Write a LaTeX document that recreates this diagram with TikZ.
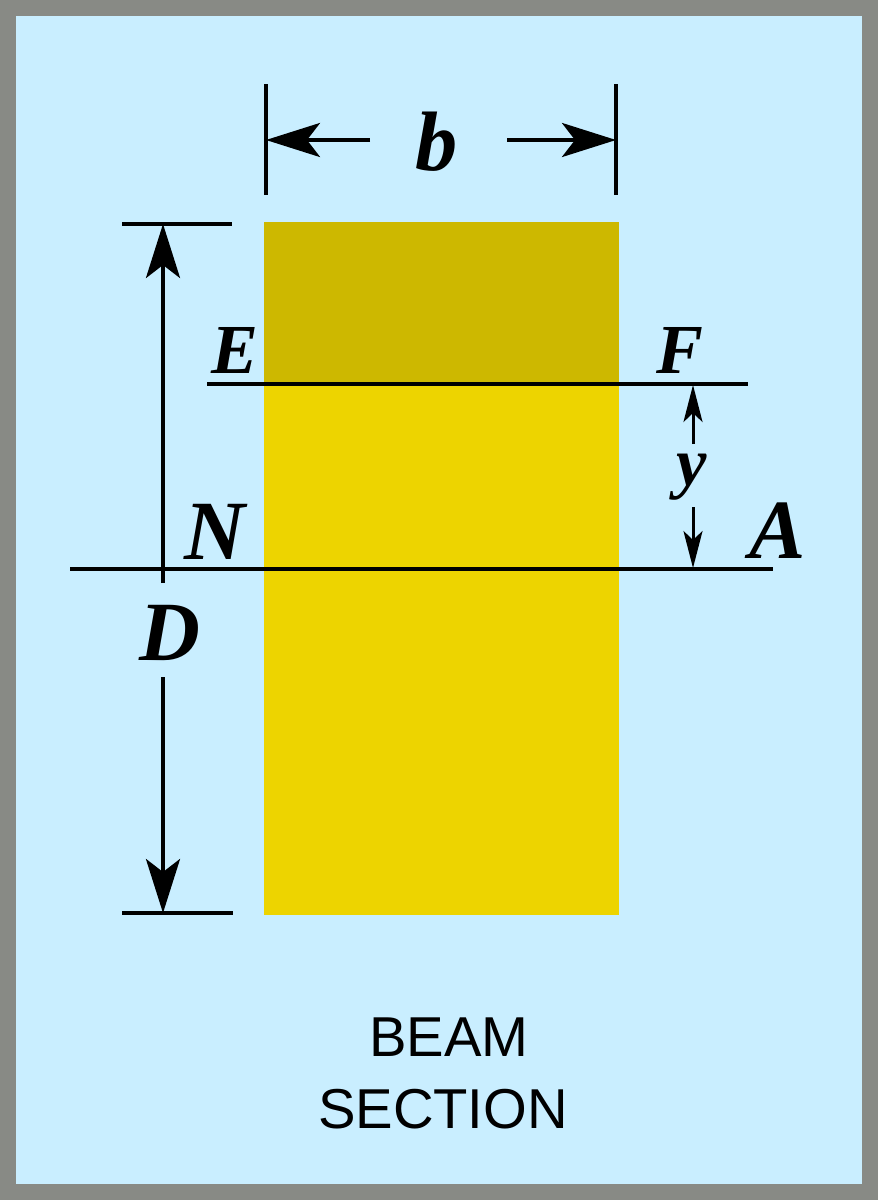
\documentclass[tikz,border=0pt]{standalone}
\usepackage{fontspec}
\setmainfont{Liberation Serif}
\setsansfont{Liberation Sans}
\usetikzlibrary{arrows.meta}
\definecolor{framegray}{RGB}{136,138,133}
\definecolor{skyblue}{RGB}{201,238,255}
\definecolor{beamyellow}{RGB}{237,212,0}
\definecolor{beamdark}{RGB}{205,184,0}
\begin{document}
\begin{tikzpicture}[x=0.02cm,y=-0.02cm,
    dimline/.style={line width=0.08cm},
    thinline/.style={line width=0.06cm},
    bigtip/.style={-{Stealth[length=1.08cm,width=0.68cm,inset=0.26cm]}},
    smalltip/.style={-{Stealth[length=0.74cm,width=0.38cm,inset=0.18cm]}},
    sym/.style={font=\fontsize{#1}{#1}\selectfont\bfseries\itshape,inner sep=0pt,anchor=base},
    caption/.style={font=\sffamily\fontsize{32}{40}\selectfont,inner sep=0pt,anchor=base}]
                    % frame and section
                    \fill[framegray] (0,0) rectangle (878,1200);
                    \fill[skyblue] (16,16) rectangle (862,1184);
                    \fill[beamyellow] (264,384) rectangle (619,915);
                    \fill[beamdark] (264,222) rectangle (619,384);
                    \coordinate(EFl)at(207,384);\coordinate(EFr)at(748,384);
                    \coordinate(NAl)at(70,569);\coordinate(NAr)at(773,569);
                    \draw[dimline] (EFl) -- (EFr) (NAl) -- (NAr);
                    % b
                    \coordinate(bLtop)at(266,84);\coordinate(bLbot)at(266,195);
                    \coordinate(bRtop)at(616,84);\coordinate(bRbot)at(616,195);
                    \coordinate(bLtip)at(266,140);\coordinate(bLend)at(370,140);
                    \coordinate(bRtip)at(616,140);\coordinate(bRend)at(507,140);
                    \draw[dimline] (bLtop) -- (bLbot) (bRtop) -- (bRbot);
                    \draw[dimline,bigtip] (bLend) -- (bLtip);
                    \draw[dimline,bigtip] (bRend) -- (bRtip);
                    % D
                    \coordinate(DTl)at(122,224);\coordinate(DTr)at(232,224);
                    \coordinate(DBl)at(122,913);\coordinate(DBr)at(233,913);
                    \coordinate(Dtip)at(163,224);\coordinate(Dup)at(163,583);
                    \coordinate(Dlow)at(163,677);\coordinate(Dbot)at(163,913);
                    \draw[dimline] (DTl) -- (DTr) (DBl) -- (DBr);
                    \draw[dimline,bigtip] (Dup) -- (Dtip);
                    \draw[dimline,bigtip] (Dlow) -- (Dbot);
                    % y
                    \coordinate(yTop)at(693,385);\coordinate(yUp)at(693,444);
                    \coordinate(yLow)at(693,507);\coordinate(yBot)at(693,568);
                    \draw[thinline,smalltip] (yUp) -- (yTop);
                    \draw[thinline,smalltip] (yLow) -- (yBot);
                    % labels
                    \node[sym=48] (b) at (437,170) {b};
                    \node[sym=40] (E) at (235,373) {E};
                    \node[sym=40] (F) at (680,373) {F};
                    \node[sym=39] (y) at (692,485) {y};
                    \node[sym=48] (N) at (215,559) {N};
                    \node[sym=48] (A) at (778,558) {A};
                    \node[sym=48] (D) at (170,660) {D};
                    \node[caption] (beam) at (449,1056) {BEAM};
                    \node[caption] (section) at (443,1128) {SECTION};
                \end{tikzpicture}
\end{document}
